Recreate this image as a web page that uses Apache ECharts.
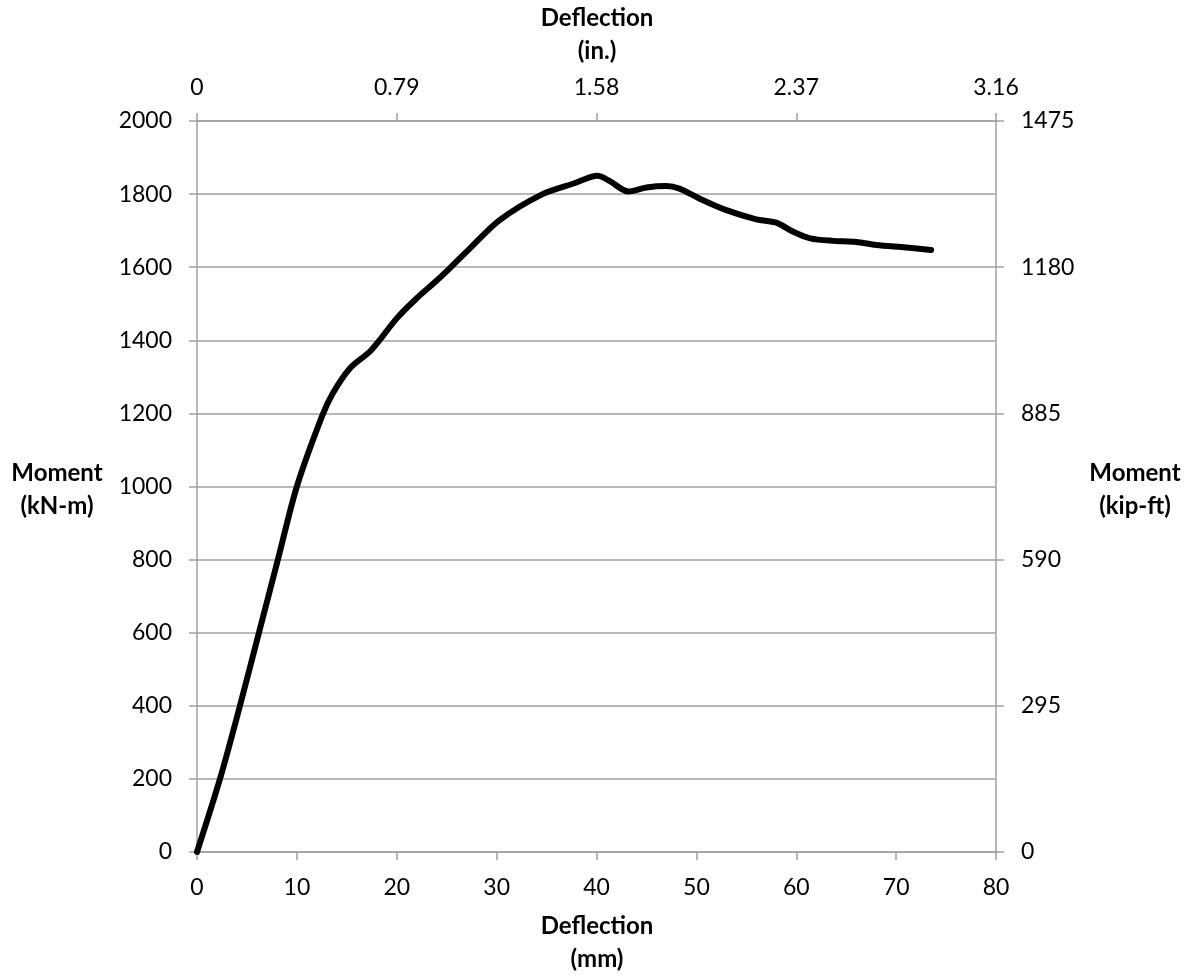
<!DOCTYPE html>
<html>
<head>
<meta charset="utf-8">
<script src="https://cdn.jsdelivr.net/npm/echarts@6/dist/echarts.min.js"></script>
<style>
html,body{margin:0;padding:0;background:#fff;}
#chart{width:1191px;height:977px;}
</style>
</head>
<body>
<div id="chart"></div>
<script>
// Data
var deflectionMm = [0, 2.3, 4.3, 6.2, 8.1, 10.0, 12.5, 13.6, 15.3, 17.3, 18.3, 20.0, 22.0, 23.7, 25.3, 27.3, 30.3, 34.6, 37.7, 40.1, 41.3, 43.2, 45.0, 47.0, 48.3, 50.3, 53.0, 56.0, 58.0, 59.7, 61.4, 63.7, 66.0, 68.0, 71.0, 73.5];
var momentKNm   = [0, 200, 400, 600, 800, 1000, 1191, 1255, 1323, 1369, 1401, 1460, 1515, 1556, 1597, 1651, 1729, 1800, 1829, 1850, 1836, 1807, 1818, 1822, 1815, 1788, 1756, 1731, 1722, 1697, 1679, 1672, 1669, 1661, 1654, 1647];
var topTickLabels = ['0', '0.79', '1.58', '2.37', '3.16'];
var rightTickLabels = ['0', '295', '590', '885', '1180', '1475'];

var FONT = 'Lato';
var GRID = '#a0a0a0';
var lblStyle = {fontFamily: FONT, fontSize: 23, color: '#000'};
var titleStyle = {fontFamily: FONT, fontSize: 24, fontWeight: 'bold', fill: '#000', textAlign: 'center', textVerticalAlign: 'middle', lineHeight: 33};

var points = deflectionMm.map(function (d, i) { return [d, momentKNm[i]]; });

var chart = echarts.init(document.getElementById('chart'), null, {renderer: 'canvas'});
chart.setOption({
  animation: false,
  backgroundColor: '#ffffff',
  grid: {left: 197, right: 195, top: 121, bottom: 125, containLabel: false},
  xAxis: [
    {
      type: 'value', position: 'bottom', min: 0, max: 80, interval: 10,
      axisLine: {show: true, onZero: false, lineStyle: {color: GRID, width: 1.5}},
      axisTick: {show: true, inside: false, length: 8, lineStyle: {color: GRID, width: 1.5}},
      axisLabel: Object.assign({margin: 24, formatter: function (v) { return String(v); }}, lblStyle),
      splitLine: {show: false}
    },
    {
      type: 'value', position: 'top', min: 0, max: 80, interval: 20,
      axisLine: {show: true, onZero: false, lineStyle: {color: GRID, width: 1.5}},
      axisTick: {show: true, inside: false, length: 8, lineStyle: {color: GRID, width: 1.5}},
      axisLabel: Object.assign({margin: 22, formatter: function (v) { return topTickLabels[Math.round(v / 20)]; }}, lblStyle),
      splitLine: {show: false}
    }
  ],
  yAxis: [
    {
      type: 'value', position: 'left', min: 0, max: 2000, interval: 200,
      axisLine: {show: true, onZero: false, lineStyle: {color: GRID, width: 1.5}},
      axisTick: {show: true, inside: false, length: 8, lineStyle: {color: GRID, width: 1.5}},
      axisLabel: Object.assign({margin: 25, formatter: function (v) { return String(v); }}, lblStyle),
      splitLine: {show: true, lineStyle: {color: GRID, width: 1.5}}
    },
    {
      type: 'value', position: 'right', min: 0, max: 2000, interval: 400,
      axisLine: {show: true, onZero: false, lineStyle: {color: GRID, width: 1.5}},
      axisTick: {show: true, inside: false, length: 8, lineStyle: {color: GRID, width: 1.5}},
      axisLabel: Object.assign({margin: 25, formatter: function (v) { return rightTickLabels[Math.round(v / 400)]; }}, lblStyle),
      splitLine: {show: false}
    }
  ],
  series: [{
    type: 'line',
    xAxisIndex: 0, yAxisIndex: 0,
    data: points,
    smooth: 0.3,
    showSymbol: false,
    symbol: 'none',
    lineStyle: {color: '#000', width: 6, cap: 'round', join: 'round'}
  }],
  graphic: [
    {type: 'text', x: 597, y: 35, style: Object.assign({text: 'Deflection\n(in.)'}, titleStyle)},
    {type: 'text', x: 597, y: 943, style: Object.assign({text: 'Deflection\n(mm)'}, titleStyle)},
    {type: 'text', x: 57, y: 490, style: Object.assign({text: 'Moment\n(kN-m)'}, titleStyle)},
    {type: 'text', x: 1135, y: 490, style: Object.assign({text: 'Moment\n(kip-ft)'}, titleStyle)}
  ]
});
</script>
</body>
</html>
